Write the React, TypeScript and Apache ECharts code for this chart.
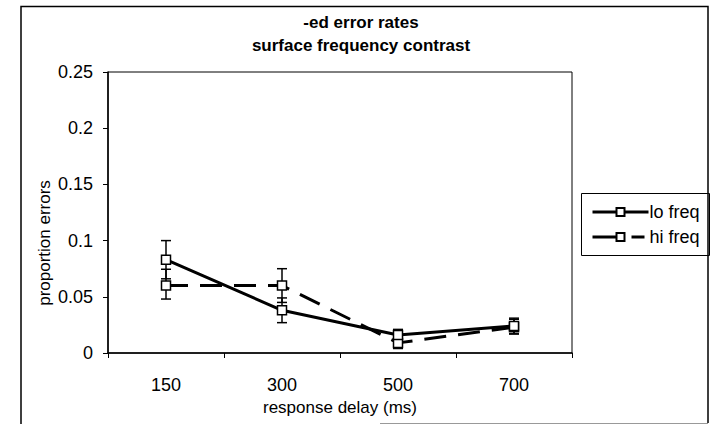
import React, { useEffect, useRef } from "react";
import * as echarts from "echarts";

// Response delays (ms) on the category axis
const delays = ["150", "300", "500", "700"];

// Mean proportion of errors per condition
const loFreq = [0.083, 0.038, 0.016, 0.024];
const hiFreq = [0.06, 0.06, 0.009, 0.023];

// Error bar extents (low, high) per condition
const loFreqLow = [0.066, 0.027, 0.011, 0.017];
const loFreqHigh = [0.1, 0.049, 0.021, 0.031];
const hiFreqLow = [0.048, 0.045, 0.004, 0.017];
const hiFreqHigh = [0.0745, 0.075, 0.014, 0.03];

const yTicks = [0, 0.05, 0.1, 0.15, 0.2, 0.25];

const FONT = "'Liberation Sans', Arial, sans-serif";
const HI_DASH = [22, 12];
// legend swatch dash: long dash up to the marker, a gap, then a short dash
const HI_LEGEND_DASH = [32, 7, 13, 10];

function errorSeries(name: string, low: number[], high: number[]) {
  return {
    type: "custom",
    name,
    z: 1,
    silent: true,
    data: delays.map((_, i) => [i, low[i], high[i]]),
    renderItem: (_params: any, api: any) => {
      const x = api.value(0);
      const top = api.coord([x, api.value(2)]);
      const bot = api.coord([x, api.value(1)]);
      const half = 5;
      const style = { stroke: "#000", lineWidth: 1.5 };
      return {
        type: "group",
        children: [
          { type: "line", shape: { x1: top[0], y1: top[1], x2: bot[0], y2: bot[1] }, style },
          { type: "line", shape: { x1: top[0] - half, y1: top[1], x2: top[0] + half, y2: top[1] }, style },
          { type: "line", shape: { x1: bot[0] - half, y1: bot[1], x2: bot[0] + half, y2: bot[1] }, style },
        ],
      };
    },
  };
}

export default function App() {
  const ref = useRef<HTMLDivElement>(null);

  useEffect(() => {
    if (!ref.current) return;
    const chart = echarts.init(ref.current, null, { renderer: "svg" });
    const markerStyle = { color: "#fff", borderColor: "#000", borderWidth: 1.5 };
    chart.setOption({
      animation: false,
      backgroundColor: "#fff",
      textStyle: { fontFamily: FONT, color: "#000" },
      title: {
        text: "-ed error rates\nsurface frequency contrast",
        left: 356,
        textAlign: "center",
        top: 6,
        textStyle: { fontFamily: FONT, fontSize: 17, fontWeight: "bold", color: "#000", lineHeight: 23 },
      },
      legend: {
        data: [
          { name: "lo freq", lineStyle: { width: 3, type: "solid", color: "#000" } },
          { name: "hi freq", lineStyle: { width: 3, type: HI_LEGEND_DASH, color: "#000" } },
        ],
        orient: "vertical",
        left: 591,
        top: 203,
        padding: 0,
        itemWidth: 56,
        itemHeight: 10,
        itemGap: 7,
        textStyle: { fontFamily: FONT, fontSize: 18, color: "#000", padding: [0, 0, 0, -4] },
      },
      grid: {
        left: 108,
        right: 139,
        top: 72,
        bottom: 72,
        show: true,
        borderColor: "#000",
        borderWidth: 1,
        backgroundColor: "transparent",
      },
      xAxis: {
        type: "category",
        data: delays,
        boundaryGap: true,
        name: "response delay (ms)",
        nameLocation: "middle",
        nameGap: 35,
        nameTextStyle: { fontFamily: FONT, fontSize: 17, color: "#000" },
        axisLine: { lineStyle: { color: "#000", width: 1.5 } },
        axisTick: { show: true, length: 5, lineStyle: { color: "#000" } },
        axisLabel: { margin: 23, fontFamily: FONT, fontSize: 18, color: "#000" },
        splitLine: { show: false },
      },
      yAxis: {
        type: "value",
        min: 0,
        max: 0.25,
        interval: 0.05,
        axisLine: { show: true, lineStyle: { color: "#000", width: 1.5 } },
        axisTick: { show: true, length: 5, lineStyle: { color: "#000" } },
        axisLabel: {
          margin: 15,
          fontFamily: FONT,
          fontSize: 18,
          color: "#000",
          formatter: (v: number) => {
            const t = yTicks.find((k) => Math.abs(k - v) < 1e-9);
            return t === undefined ? "" : String(t);
          },
        },
        splitLine: { show: false },
      },
      graphic: [
        {
          type: "polyline",
          silent: true,
          shape: { points: [[21, 424], [21, 6.5], [708, 6.5], [708, 423]] },
          style: { stroke: "#000", fill: null, lineWidth: 1.5 },
        },
        {
          type: "line",
          silent: true,
          shape: { x1: 380, y1: 423.5, x2: 708, y2: 423.5 },
          style: { stroke: "#999", lineWidth: 1 },
        },
        {
          type: "rect",
          silent: true,
          shape: { x: 581.5, y: 193.5, width: 128, height: 62 },
          style: { stroke: "#000", fill: null, lineWidth: 1 },
        },
        {
          type: "text",
          silent: true,
          x: 44,
          y: 243,
          rotation: Math.PI / 2,
          style: {
            text: "proportion errors",
            fontFamily: FONT,
            fontSize: 17,
            fill: "#000",
            align: "center",
            verticalAlign: "middle",
          },
        },
      ],
      series: [
        errorSeries("lo freq error", loFreqLow, loFreqHigh),
        errorSeries("hi freq error", hiFreqLow, hiFreqHigh),
        {
          type: "line",
          name: "lo freq",
          data: loFreq,
          z: 3,
          symbol: "rect",
          symbolSize: 9,
          itemStyle: markerStyle,
          lineStyle: { color: "#000", width: 3, type: "solid" },
        },
        {
          type: "line",
          name: "hi freq",
          data: hiFreq,
          z: 2,
          symbol: "rect",
          symbolSize: 9,
          itemStyle: markerStyle,
          lineStyle: { color: "#000", width: 3, type: HI_DASH },
        },
      ],
    });
    return () => chart.dispose();
  }, []);

  return (
    <div
      ref={ref}
      style={{ position: "absolute", left: 0, top: 0, width: 711, height: 425 }}
    />
  );
}
